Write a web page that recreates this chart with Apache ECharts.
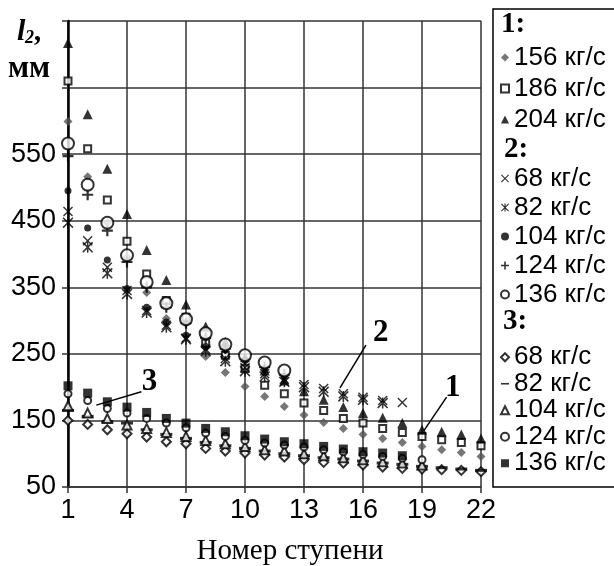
<!DOCTYPE html>
<html>
<head>
<meta charset="utf-8">
<script src="https://cdn.jsdelivr.net/npm/echarts@6/dist/echarts.min.js"></script>
<style>
  html, body { margin: 0; padding: 0; background: #fff; }
  #chart { width: 614px; height: 566px; }
</style>
</head>
<body>
<div id="chart"></div>
<script>
// номер ступени
const stages = [1, 2, 3, 4, 5, 6, 7, 8, 9, 10, 11, 12, 13, 14, 15, 16, 17, 18, 19, 20, 21, 22]

// группа 1
const g1_156 = [599, 516, 447, 395, 342, 303, 296, 246, 222, 201, 186, 171, 158, 147, 138, 129, 123, 117, 111, 106, 102, 96]
const g1_186 = [660, 558, 481, 419, 370, 330, 305, 266, 248, 228, 203, 190, 176, 165, 153, 146, 138, 132, 126, 121, 117, 112]
const g1_204 = [717, 610, 528, 460, 406, 361, 324, 291, 268, 245, 225, 210, 194, 181, 170, 161, 154, 146, 136, 133, 129, 123]

// группа 2
const g2_68 = [464, 420, 380, 345, 315, 293, 274, 257, 243, 229, 220, 212, 204, 198, 190, 185, 180, 177, null, null, null, null]
const g2_82 = [447, 410, 371, 340, 312, 290, 272, 254, 239, 224, 216, 208, 200, 193, 186, 181, 176, null, null, null, null, null]
const g2_104 = [495, 439, 391, 348, 320, 298, 278, 261, 256, 240, 228, 216, null, null, null, null, null, null, null, null, null, null]
const g2_124 = [547, 489, 435, 388, 350, 320, 296, 274, 258, 242, 230, 219, null, null, null, null, null, null, null, null, null, null]
const g2_136 = [566, 504, 447, 398, 358, 326, 302, 281, 264, 248, 237, 225, null, null, null, null, null, null, null, null, null, null]

// группа 3
const g3_68 = [150, 144, 136, 130, 125, 118, 115, 108, 104, 101, 98, 95, 91, 87, 86, 83, 80, 78, 77, 76, 75, 73]
const g3_82 = [165, 156, 148, 146, 136, 129, 123, 117, 112, 108, 104, 100, 97, 94, 92, 89, 86, 84, 81, 79, 77, 75]
const g3_104 = [172, 161, 153, 143, 138, 132, 126, 120, 115, 111, 106, 104, 100, 97, 94, 91, 88, 86, 83, null, null, null]
const g3_124 = [190, 180, 168, 161, 153, 146, 139, 131, 126, 120, 116, 113, 110, 106, 103, 99, 96, 93, 91, null, null, null]
const g3_136 = [202, 191, 178, 170, 162, 153, 146, 138, 133, 127, 122, 118, 115, 111, 107, 103, 101, 97, null, null, null, null]

// подписи кривых: [x, y] метки и концы выноски
const curveNames = ['1', '2', '3']
const curveLabelAt = [[20.56, 199], [16.9, 281], [5.15, 208]]
const curveLeaders = [
  [[20.25, 185], [19.08, 134]],
  [[16.15, 263], [14.83, 199]],
  [[4.73, 193], [2.44, 173]],
]

// символы
const PLUS = 'path://M4,0H6V4H10V6H6V10H4V6H0V4H4Z'
const CROSS = 'path://M1,0L5,4L9,0L10,1L6,5L10,9L9,10L5,6L1,10L0,9L4,5L0,1Z'
const STAR = 'path://M1,0L5,4L9,0L10,1L6,5L10,9L9,10L5,6L1,10L0,9L4,5L0,1Z M4.3,0H5.7V10H4.3Z'
const DASH_ICON = 'path://M0,0M0,4H10V6H0Z M10,10'

const hollow = { color: '#fff', borderColor: '#000', borderWidth: 2 }
const solid = { color: '#000' }

const seriesDefs = [
  { id: 'g1_156', text: '156 кг/с', values: g1_156, symbol: 'diamond', size: 9, style: { color: '#555' } },
  { id: 'g1_186', text: '186 кг/с', values: g1_186, symbol: 'rect', size: 7, style: hollow },
  { id: 'g1_204', text: '204 кг/с', values: g1_204, symbol: 'triangle', size: 10, style: solid },
  { id: 'g2_68', text: '68 кг/с', values: g2_68, symbol: CROSS, size: 10, style: solid },
  { id: 'g2_82', text: '82 кг/с', values: g2_82, symbol: STAR, size: 11, style: solid },
  { id: 'g2_104', text: '104 кг/с', values: g2_104, symbol: 'circle', size: 7, style: solid },
  { id: 'g2_124', text: '124 кг/с', values: g2_124, symbol: PLUS, size: 11, style: solid },
  { id: 'g2_136', text: '136 кг/с', values: g2_136, symbol: 'circle', size: 12, style: hollow },
  { id: 'g3_68', text: '68 кг/с', values: g3_68, symbol: 'diamond', size: 9, style: hollow },
  { id: 'g3_82', text: '82 кг/с', values: g3_82, symbol: 'rect', size: [12, 3], style: solid, icon: DASH_ICON },
  { id: 'g3_104', text: '104 кг/с', values: g3_104, symbol: 'triangle', size: 9, style: hollow },
  { id: 'g3_124', text: '124 кг/с', values: g3_124, symbol: 'circle', size: 7, style: hollow },
  { id: 'g3_136', text: '136 кг/с', values: g3_136, symbol: 'rect', size: 9, style: solid },
]

const textOf = {}
seriesDefs.forEach((d) => { textOf[d.id] = d.text })

const SANS = '"Liberation Sans", Arial, sans-serif'
const SERIF = '"Liberation Serif", "Times New Roman", serif'

const series = seriesDefs.map((d) => ({
  type: 'scatter',
  name: d.id,
  symbol: d.symbol,
  symbolSize: d.size,
  itemStyle: d.style,
  z: 3,
  data: stages.map((s, i) => (d.values[i] == null ? null : [s, d.values[i]])).filter(Boolean),
}))

// выноски и номера кривых
series.push({
  type: 'scatter',
  name: 'notes',
  data: [],
  silent: true,
  markLine: {
    silent: true,
    symbol: ['none', 'none'],
    label: { show: false },
    lineStyle: { color: '#000', width: 1.5, type: 'solid' },
    animation: false,
    data: curveLeaders.map((l) => [{ coord: l[0] }, { coord: l[1] }]),
  },
  markPoint: {
    silent: true,
    symbol: 'circle',
    symbolSize: 1,
    itemStyle: { color: 'rgba(0,0,0,0)' },
    animation: false,
    label: {
      show: true,
      position: 'inside',
      formatter: (p) => p.name,
      color: '#000',
      fontFamily: SERIF,
      fontWeight: 'bold',
      fontSize: 31,
    },
    data: curveNames.map((n, i) => ({ name: n, coord: curveLabelAt[i] })),
  },
})

const makeLegend = (ids, top, lineHeight) => ({
  orient: 'vertical',
  left: 500,
  top: top,
  itemWidth: 8,
  itemHeight: 8,
  itemGap: 0,
  padding: 0,
  selectedMode: false,
  formatter: (name) => textOf[name],
  textStyle: { fontFamily: SANS, fontSize: 26, color: '#000', lineHeight: lineHeight },
  data: ids.map((id) => {
    const d = seriesDefs.find((s) => s.id === id)
    return d.icon ? { name: id, icon: d.icon } : { name: id }
  }),
})

const chart = echarts.init(document.getElementById('chart'))

chart.setOption({
  animation: false,
  backgroundColor: '#fff',
  grid: { left: 68, right: 133, top: 21, bottom: 79 },
  xAxis: {
    type: 'value',
    min: 1,
    max: 22,
    interval: 3,
    axisLine: { lineStyle: { color: '#333', width: 1.5 } },
    axisTick: { show: true, length: 6, lineStyle: { color: '#333', width: 1.5 } },
    axisLabel: { fontFamily: SANS, fontSize: 27, color: '#000', margin: 10 },
    splitLine: { show: true, lineStyle: { color: '#333', width: 1.5 } },
  },
  yAxis: {
    type: 'value',
    min: 50,
    max: 750,
    interval: 100,
    axisLine: { show: true, lineStyle: { color: '#000', width: 2.5 } },
    axisTick: { show: true, length: 6, lineStyle: { color: '#333', width: 1.5 } },
    axisLabel: {
      fontFamily: SANS,
      fontSize: 27,
      color: '#000',
      margin: 12,
      formatter: (v) => (v > 600 ? '' : String(v)),
    },
    splitLine: { show: true, lineStyle: { color: '#333', width: 1.5 } },
  },
  legend: [
    makeLegend(['g1_156', 'g1_186', 'g1_204'], 42, 31),
    makeLegend(['g2_68', 'g2_82', 'g2_104', 'g2_124', 'g2_136'], 164, 29),
    makeLegend(['g3_68', 'g3_82', 'g3_104', 'g3_124', 'g3_136'], 344, 26.5),
  ],
  graphic: [
    { type: 'rect', shape: { x: 493, y: 9, width: 125, height: 478 }, style: { fill: 'none', stroke: '#000', lineWidth: 1.5 } },
    { type: 'text', style: { text: '1:', x: 501, y: 25, font: 'bold 29px ' + SERIF, fill: '#000', verticalAlign: 'middle' } },
    { type: 'text', style: { text: '2:', x: 504, y: 150, font: 'bold 29px ' + SERIF, fill: '#000', verticalAlign: 'middle' } },
    { type: 'text', style: { text: '3:', x: 503, y: 322, font: 'bold 29px ' + SERIF, fill: '#000', verticalAlign: 'middle' } },
    { type: 'text', style: { text: 'l', x: 17, y: 32, font: 'italic bold 30px ' + SERIF, fill: '#000', verticalAlign: 'middle' } },
    { type: 'text', style: { text: '2', x: 25, y: 38, font: 'italic bold 18px ' + SERIF, fill: '#000', verticalAlign: 'middle' } },
    { type: 'text', style: { text: ',', x: 35, y: 32, font: 'italic bold 30px ' + SERIF, fill: '#000', verticalAlign: 'middle' } },
    { type: 'text', style: { text: 'мм', x: 8, y: 69, font: 'bold 31px ' + SERIF, fill: '#000', verticalAlign: 'middle' } },
    // подпись оси X
    { type: 'text', style: { text: 'Номер ступени', x: 290, y: 551, font: '29px ' + SERIF, fill: '#000', align: 'center', verticalAlign: 'middle' } },
  ],
  series: series,
})
</script>
</body>
</html>
